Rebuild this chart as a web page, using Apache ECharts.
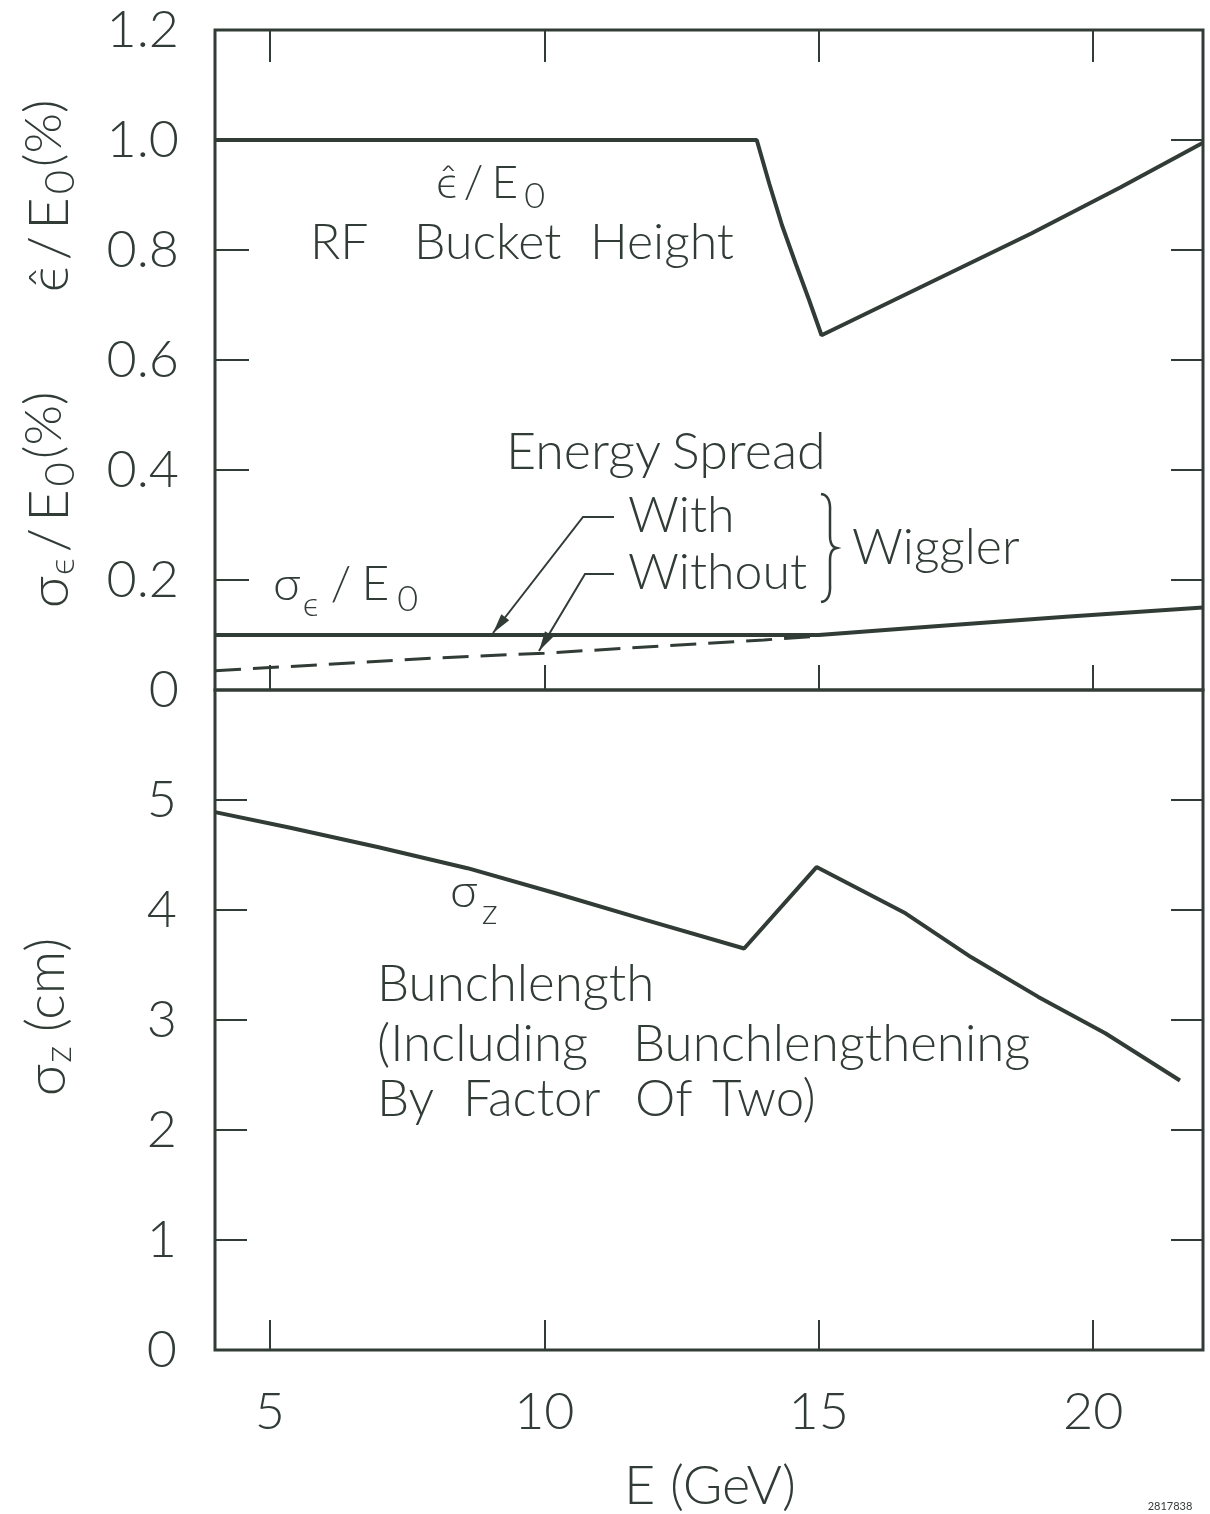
<!DOCTYPE html>
<html><head><meta charset="utf-8">
<script src="https://cdn.jsdelivr.net/npm/echarts@6/dist/echarts.min.js"></script>
<style>html,body{margin:0;padding:0;background:#fff}#c{width:1210px;height:1514px}</style>
</head><body><div id="c"></div>
<script>
// ---- data ----
const X_TICKS = [5, 10, 15, 20];
const RF_E = [4, 13.87, 14.1, 14.33, 14.58, 14.82, 15.05, 18.87, 20.5, 22];
const RF_V = [1.0, 1.0, 0.92, 0.845, 0.775, 0.71, 0.645, 0.83, 0.914, 0.995];
const WITH_E = [4, 15, 17, 19.5, 22];
const WITH_V = [0.1, 0.1, 0.115, 0.133, 0.15];
const WITHOUT_E = [4, 8, 10, 12, 14, 15];
const WITHOUT_V = [0.035, 0.058, 0.067, 0.079, 0.091, 0.098];
const SZ_E = [4, 5.35, 6.98, 8.6, 10.22, 11.84, 13.64, 14.96, 16.58, 17.78, 19.0, 20.22, 21.58];
const SZ_V = [4.89, 4.75, 4.57, 4.38, 4.15, 3.91, 3.65, 4.39, 3.97, 3.57, 3.21, 2.88, 2.45];

const pairs = (xs, ys) => xs.map((x, i) => [x, ys[i]]);
const INK = '#323c36';
const FONT = 'Lato';
const W = 300;
const mctx = document.createElement('canvas').getContext('2d');
function tw(t, s) { mctx.font = W + ' ' + s + 'px ' + FONT + ', sans-serif'; return mctx.measureText(t).width; }
function T(x, y, t, s, opt) {
  return { type: 'text', x: x, y: y, silent: true,
    style: Object.assign({ text: t, fontSize: s, fontFamily: FONT, fontWeight: W, fill: INK, align: 'left', verticalAlign: 'middle' }, opt || {}) };
}
function runs(x0, y0, parts, center) {
  let total = 0;
  parts.forEach(p => { total += tw(p.t, p.s) + (p.gap || 0); });
  let x = center ? x0 - total / 2 : x0;
  const out = [];
  parts.forEach(p => { out.push(T(x, y0 + (p.dy || 0), p.t, p.s)); x += tw(p.t, p.s) + (p.gap || 0); });
  return out;
}
function arrow(pts, len, hw) {
  const n = pts.length, T2 = pts[n - 1], P = pts[n - 2];
  const dx = T2[0] - P[0], dy = T2[1] - P[1], d = Math.hypot(dx, dy);
  const ux = dx / d, uy = dy / d, px = -uy, py = ux;
  const bx = T2[0] - ux * len, by = T2[1] - uy * len;
  return [
    { type: 'polyline', silent: true, shape: { points: pts }, style: { stroke: INK, lineWidth: 2, fill: null } },
    { type: 'polygon', silent: true, shape: { points: [T2, [bx + px * hw, by + py * hw], [bx - px * hw, by - py * hw]] }, style: { fill: INK } }
  ];
}
function quad(p0, c, p1, n) {
  const out = [];
  for (let i = 0; i <= n; i++) {
    const t = i / n, a = (1 - t) * (1 - t), b = 2 * (1 - t) * t, d = t * t;
    out.push([a * p0[0] + b * c[0] + d * p1[0], a * p0[1] + b * c[1] + d * p1[1]]);
  }
  return out;
}

const chart = echarts.init(document.getElementById('c'), null, { renderer: 'canvas' });
const tickStyle = { color: INK, width: 2 };
const noLine = { show: false, onZero: false };
const xBase = { type: 'value', min: 4, max: 22, splitLine: { show: false }, axisLine: noLine };
const option = {
  backgroundColor: '#ffffff',
  animation: false,
  grid: [
    { left: 215, top: 30, width: 988, height: 660, show: true, borderWidth: 3, borderColor: INK, backgroundColor: 'transparent' },
    { left: 215, top: 690, width: 988, height: 660, show: true, borderWidth: 3, borderColor: INK, backgroundColor: 'transparent' }
  ],
  xAxis: [
    Object.assign({}, xBase, { gridIndex: 0, position: 'bottom', axisLabel: { show: false },
      axisTick: { inside: true, length: 25, customValues: X_TICKS, lineStyle: tickStyle } }),
    Object.assign({}, xBase, { gridIndex: 0, position: 'top', axisLabel: { show: false },
      axisTick: { inside: true, length: 32, customValues: X_TICKS, lineStyle: tickStyle } }),
    Object.assign({}, xBase, { gridIndex: 1, position: 'bottom',
      axisLabel: { customValues: X_TICKS, fontSize: 52, fontFamily: FONT, fontWeight: W, color: INK, margin: 36 },
      axisTick: { inside: true, length: 30, customValues: X_TICKS, lineStyle: tickStyle } })
  ],
  yAxis: [
    { type: 'value', gridIndex: 0, position: 'left', min: 0, max: 1.2, interval: 0.2, splitLine: { show: false }, axisLine: noLine,
      axisTick: { inside: true, length: 34, lineStyle: tickStyle },
      axisLabel: { fontSize: 52, fontFamily: FONT, fontWeight: W, color: INK, margin: 36,
        formatter: v => (Math.abs(v) < 1e-9 ? '0' : v.toFixed(1)) } },
    { type: 'value', gridIndex: 0, position: 'right', min: 0, max: 1.2, interval: 0.2, splitLine: { show: false }, axisLine: noLine,
      axisTick: { inside: true, length: 32, lineStyle: tickStyle }, axisLabel: { show: false } },
    { type: 'value', gridIndex: 1, position: 'left', min: 0, max: 6, interval: 1, splitLine: { show: false }, axisLine: noLine,
      axisTick: { inside: true, length: 32, lineStyle: tickStyle },
      axisLabel: { fontSize: 52, fontFamily: FONT, fontWeight: W, color: INK, margin: 38,
        formatter: v => (v >= 6 ? '' : String(v)) } },
    { type: 'value', gridIndex: 1, position: 'right', min: 0, max: 6, interval: 1, splitLine: { show: false }, axisLine: noLine,
      axisTick: { inside: true, length: 32, lineStyle: tickStyle }, axisLabel: { show: false } }
  ],
  series: [
    { name: 'RF Bucket Height', type: 'line', xAxisIndex: 0, yAxisIndex: 0, data: pairs(RF_E, RF_V), showSymbol: false, smooth: false,
      lineStyle: { color: INK, width: 4 } },
    { name: 'With Wiggler', type: 'line', xAxisIndex: 0, yAxisIndex: 0, data: pairs(WITH_E, WITH_V), showSymbol: false,
      lineStyle: { color: INK, width: 4 } },
    { name: 'Without Wiggler', type: 'line', xAxisIndex: 0, yAxisIndex: 0, data: pairs(WITHOUT_E, WITHOUT_V), showSymbol: false,
      lineStyle: { color: INK, width: 3, type: [26, 12] } },
    { name: 'Bunchlength', type: 'line', xAxisIndex: 2, yAxisIndex: 2, data: pairs(SZ_E, SZ_V), showSymbol: false,
      lineStyle: { color: INK, width: 4 } }
  ],
  graphic: { elements: [] }
};

const G = option.graphic.elements;
// rotated axis titles
G.push({ type: 'group', x: 50, y: 196, rotation: Math.PI / 2, children: runs(0, 0, [
  { t: 'ϵ\u0302', s: 56, gap: 6 }, { t: '/', s: 56, gap: 6 }, { t: 'E', s: 56, gap: 3 }, { t: '0', s: 42, dy: 10, gap: 3 }, { t: '(%)', s: 52, dy: -6 }], true) });
G.push({ type: 'group', x: 50, y: 500, rotation: Math.PI / 2, children: runs(0, 0, [
  { t: 'σ', s: 56, gap: 1 }, { t: 'ϵ', s: 36, dy: 12, gap: 6 }, { t: '/', s: 56, gap: 6 }, { t: 'E', s: 56, gap: 3 }, { t: '0', s: 42, dy: 10, gap: 3 }, { t: '(%)', s: 52, dy: -6 }], true) });
G.push({ type: 'group', x: 47, y: 1017, rotation: Math.PI / 2, children: runs(0, 0, [
  { t: 'σ', s: 56, gap: 1 }, { t: 'z', s: 38, dy: 12, gap: 14 }, { t: '(cm)', s: 54 }], true) });

// x-axis title and id
G.push(T(710, 1487, 'E (GeV)', 54, { align: 'center' }));
G.push(T(1170, 1506, '2817838', 11, { align: 'center', fontWeight: 400 }));

// top panel annotations
runs(436, 183, [{ t: 'ϵ\u0302', s: 46, gap: 6 }, { t: '/', s: 46, gap: 8 }, { t: 'E', s: 46, gap: 6 }, { t: '0', s: 36, dy: 13 }]).forEach(e => G.push(e));
G.push(T(310, 243, 'RF', 50));
G.push(T(414, 243, 'Bucket', 50));
G.push(T(590, 243, 'Height', 50));
G.push(T(506, 452, 'Energy', 52));
G.push(T(672, 452, 'Spread', 52));
G.push(T(628, 516, 'With', 50));
G.push(T(628, 573, 'Without', 50));
G.push(T(852, 548, 'Wiggler', 50));
runs(273, 585, [{ t: 'σ', s: 48, gap: 2 }, { t: 'ϵ', s: 34, dy: 20, gap: 12 }, { t: '/', s: 48, gap: 10 }, { t: 'E', s: 48, gap: 8 }, { t: '0', s: 36, dy: 14 }]).forEach(e => G.push(e));
// brace
const bracePts = [].concat(
  quad([821, 494], [831, 495], [830, 512], 8),
  [[830, 536]],
  quad([830, 536], [830, 547], [837, 548], 6),
  quad([837, 548], [830, 549], [830, 560], 6),
  [[830, 584]],
  quad([830, 584], [831, 601], [821, 602], 8)
);
G.push({ type: 'polyline', silent: true, shape: { points: bracePts }, style: { stroke: INK, lineWidth: 2.5, fill: null } });
// leader arrows
arrow([[614, 517], [583, 517], [493, 633]], 20, 5).forEach(e => G.push(e));
arrow([[614, 574], [585, 574], [539, 651]], 20, 5).forEach(e => G.push(e));

// bottom panel annotations
runs(450, 892, [{ t: 'σ', s: 48, gap: 4 }, { t: 'z', s: 36, dy: 20 }]).forEach(e => G.push(e));
G.push(T(377, 985, 'Bunchlength', 51));
G.push(T(377, 1045, '(Including', 51));
G.push(T(633, 1045, 'Bunchlengthening', 51));
G.push(T(377, 1100, 'By', 51));
G.push(T(463, 1100, 'Factor', 51));
G.push(T(635, 1100, 'Of', 51));
G.push(T(712, 1100, 'Two)', 51));

chart.setOption(option);
</script>
</body></html>
